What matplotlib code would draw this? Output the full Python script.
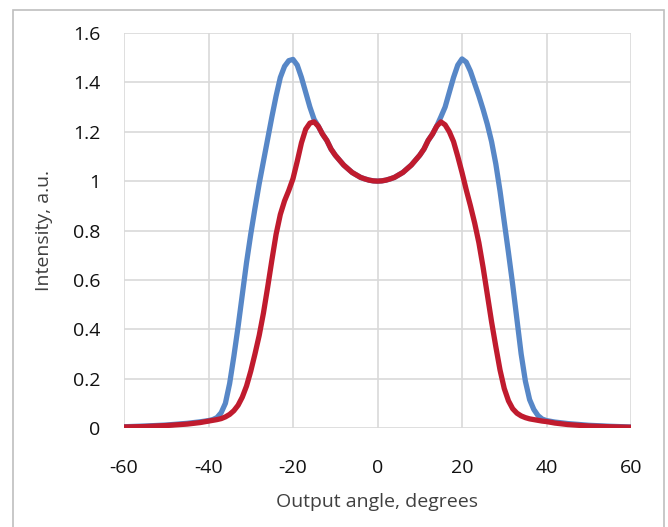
import matplotlib
matplotlib.use("Agg")
import matplotlib.pyplot as plt
from matplotlib.patches import Rectangle

# Angle (degrees) and intensity values
angle = [-60, -55, -50, -45, -42, -40, -39, -38, -37, -36, -35, -34, -33, -32, -31,
         -30, -29, -28, -27, -26, -25, -24, -23, -22, -21, -20, -19, -18, -17, -16,
         -15, -14, -13, -12, -11, -10, -9, -8, -7, -6, -5, -4, -3, -2, -1,
         0, 1, 2, 3, 4, 5, 6, 7, 8, 9, 10, 11, 12, 13, 14,
         15, 16, 17, 18, 19, 20, 21, 22, 23, 24, 25, 26, 27, 28, 29,
         30, 31, 32, 33, 34, 35, 36, 37, 38, 39, 40, 42, 45, 50, 55, 60]

blue = [0.005, 0.008, 0.012, 0.019, 0.025, 0.030, 0.034, 0.042, 0.062, 0.10, 0.18, 0.29, 0.41, 0.54, 0.67,
        0.785, 0.89, 0.99, 1.08, 1.17, 1.26, 1.345, 1.42, 1.465, 1.488, 1.493, 1.47, 1.42, 1.36, 1.30,
        1.25, 1.222, 1.19, 1.165, 1.13, 1.105, 1.085, 1.065, 1.05, 1.035, 1.025, 1.015, 1.009, 1.004, 1.001,
        1.0, 1.001, 1.004, 1.009, 1.015, 1.025, 1.035, 1.05, 1.065, 1.085, 1.105, 1.13, 1.165, 1.19, 1.222,
        1.26, 1.30, 1.36, 1.42, 1.47, 1.495, 1.482, 1.445, 1.395, 1.345, 1.29, 1.23, 1.16, 1.07, 0.96,
        0.835, 0.71, 0.58, 0.44, 0.30, 0.19, 0.115, 0.075, 0.05, 0.036, 0.030, 0.024, 0.018, 0.011, 0.007, 0.004]

red = [0.004, 0.006, 0.010, 0.016, 0.022, 0.028, 0.031, 0.034, 0.038, 0.045, 0.055, 0.07, 0.092, 0.125, 0.17,
       0.23, 0.30, 0.375, 0.465, 0.57, 0.68, 0.785, 0.865, 0.92, 0.962, 1.01, 1.08, 1.155, 1.21, 1.235,
       1.24, 1.222, 1.19, 1.165, 1.13, 1.105, 1.085, 1.065, 1.05, 1.035, 1.025, 1.015, 1.009, 1.004, 1.001,
       1.0, 1.001, 1.004, 1.009, 1.015, 1.025, 1.035, 1.05, 1.065, 1.085, 1.105, 1.13, 1.165, 1.19, 1.222,
       1.24, 1.228, 1.20, 1.16, 1.10, 1.035, 0.965, 0.90, 0.83, 0.75, 0.65, 0.54, 0.43, 0.33, 0.235,
       0.16, 0.11, 0.078, 0.06, 0.049, 0.042, 0.037, 0.034, 0.031, 0.028, 0.026, 0.020, 0.014, 0.008, 0.005, 0.003]

xticks = [-60, -40, -20, 0, 20, 40, 60]
yticks = [0, 0.2, 0.4, 0.6, 0.8, 1.0, 1.2, 1.4, 1.6]
ytick_labels = ["0", "0.2", "0.4", "0.6", "0.8", "1", "1.2", "1.4", "1.6"]

plt.rcParams['font.family'] = ['Open Sans', 'DejaVu Sans']
plt.rcParams['axes.unicode_minus'] = False

fig = plt.figure(figsize=(6.68, 5.27), dpi=100)
ax = fig.add_axes([124 / 668, 1 - 428 / 527, 507 / 668, 395 / 527])

# Grey frame round the chart
fig.patches.append(Rectangle((13 / 668, -0.05), 651 / 668, 1.05 - 10 / 527,
                             transform=fig.transFigure, fill=False,
                             edgecolor='#BFBFBF', linewidth=1.2))

ax.plot(angle, blue, color='#5787C7', linewidth=3.8,
        solid_capstyle='round', solid_joinstyle='round', zorder=3)
ax.plot(angle, red, color='#C01B2E', linewidth=3.8,
        solid_capstyle='round', solid_joinstyle='round', zorder=4)

ax.set_xlim(-60, 60)
ax.set_ylim(0, 1.6)
ax.set_xticks(xticks)
ax.set_yticks(yticks)
ax.set_yticklabels(ytick_labels)
ax.grid(True, color='#D9D9D9', linewidth=1.2)
ax.set_axisbelow(True)
for s in ax.spines.values():
    s.set_visible(False)
ax.tick_params(length=0, labelsize=14, labelcolor='#111111')
ax.tick_params(axis='x', pad=22)
ax.tick_params(axis='y', pad=17)

ax.set_xlabel("Output angle, degrees", fontsize=14, color='#404040', labelpad=12)
ax.set_ylabel("Intensity, a.u.", fontsize=14, color='#404040', labelpad=14)

fig.savefig("out.png", dpi=100)
